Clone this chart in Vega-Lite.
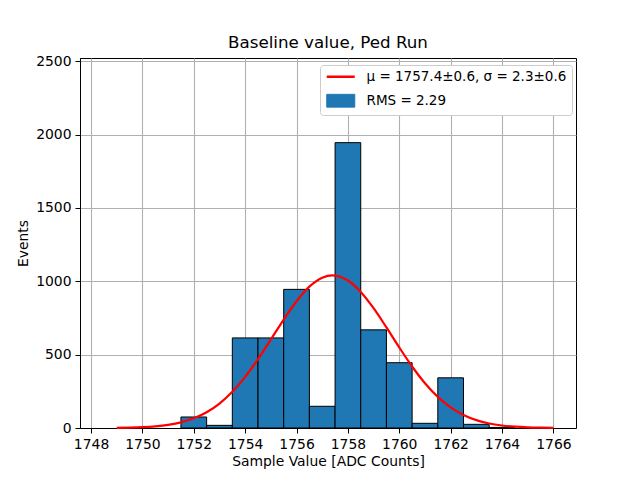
{
  "$schema": "https://vega.github.io/schema/vega-lite/v6.json",
  "autosize": {"type": "none"},
  "padding": {"left": 80, "top": 58, "right": 64, "bottom": 52},
  "width": 496,
  "height": 370,
  "background": "white",
  "title": {
    "text": "Baseline value, Ped Run",
    "font": "DejaVu Sans",
    "fontSize": 16.7,
    "fontWeight": "normal",
    "color": "black",
    "offset": 3
  },
  "config": {
    "view": {"stroke": "black", "strokeWidth": 1},
    "axis": {
      "labelFont": "DejaVu Sans",
      "labelFontSize": 13.9,
      "labelColor": "black",
      "titleFont": "DejaVu Sans",
      "titleFontSize": 13.9,
      "titleFontWeight": "normal",
      "titleColor": "black",
      "domainColor": "black",
      "tickColor": "black",
      "tickSize": 5,
      "labelPadding": 4,
      "gridColor": "#b0b0b0",
      "gridWidth": 1.1,
      "gridOpacity": 1,
      "zindex": 1
    },
    "legend": {
      "title": null,
      "orient": "none",
      "legendX": 240,
      "legendY": 7,
      "fillColor": "white",
      "strokeColor": "#cccccc",
      "cornerRadius": 3,
      "padding": 5,
      "rowPadding": 8,
      "labelFont": "DejaVu Sans",
      "labelFontSize": 13.5,
      "labelColor": "black",
      "labelLimit": 400,
      "labelOffset": 19,
      "symbolSize": 256,
      "symbolOffset": 9
    }
  },
  "datasets": {
    "bins": [
      {"lo": 1751.5, "hi": 1752.5, "count": 75},
      {"lo": 1752.5, "hi": 1753.5, "count": 18},
      {"lo": 1753.5, "hi": 1754.5, "count": 614},
      {"lo": 1754.5, "hi": 1755.5, "count": 614},
      {"lo": 1755.5, "hi": 1756.5, "count": 945},
      {"lo": 1756.5, "hi": 1757.5, "count": 148},
      {"lo": 1757.5, "hi": 1758.5, "count": 1945},
      {"lo": 1758.5, "hi": 1759.5, "count": 669},
      {"lo": 1759.5, "hi": 1760.5, "count": 445},
      {"lo": 1760.5, "hi": 1761.5, "count": 32},
      {"lo": 1761.5, "hi": 1762.5, "count": 342},
      {"lo": 1762.5, "hi": 1763.5, "count": 25},
      {"lo": 1763.5, "hi": 1764.5, "count": 4}
    ],
    "fit": [
      {"x": 1749.0, "y": 1.3},
      {"x": 1749.5, "y": 2.9},
      {"x": 1750.0, "y": 5.9},
      {"x": 1750.5, "y": 11.6},
      {"x": 1751.0, "y": 21.7},
      {"x": 1751.5, "y": 38.7},
      {"x": 1752.0, "y": 66.1},
      {"x": 1752.5, "y": 107.5},
      {"x": 1753.0, "y": 166.8},
      {"x": 1753.5, "y": 247.0},
      {"x": 1754.0, "y": 348.7},
      {"x": 1754.5, "y": 469.7},
      {"x": 1755.0, "y": 603.4},
      {"x": 1755.5, "y": 739.4},
      {"x": 1756.0, "y": 864.2},
      {"x": 1756.5, "y": 963.4},
      {"x": 1757.0, "y": 1024.4},
      {"x": 1757.4, "y": 1040.0},
      {"x": 1757.5, "y": 1039.0},
      {"x": 1758.0, "y": 1005.2},
      {"x": 1758.5, "y": 927.6},
      {"x": 1759.0, "y": 816.5},
      {"x": 1759.5, "y": 685.6},
      {"x": 1760.0, "y": 549.0},
      {"x": 1760.5, "y": 419.3},
      {"x": 1761.0, "y": 305.5},
      {"x": 1761.5, "y": 212.4},
      {"x": 1762.0, "y": 140.7},
      {"x": 1762.5, "y": 89.0},
      {"x": 1763.0, "y": 53.7},
      {"x": 1763.5, "y": 30.9},
      {"x": 1764.0, "y": 16.9},
      {"x": 1764.5, "y": 8.9},
      {"x": 1765.0, "y": 4.4},
      {"x": 1765.5, "y": 2.1},
      {"x": 1766.0, "y": 1.0}
    ]
  },
  "layer": [
    {
      "data": {"name": "bins"},
      "mark": {"type": "bar", "stroke": "black", "strokeWidth": 1, "opacity": 1},
      "encoding": {
        "x": {
          "field": "lo",
          "type": "quantitative",
          "title": "Sample Value [ADC Counts]",
          "scale": {"domain": [1747.57, 1766.88], "nice": false, "zero": false},
          "axis": {"values": [1748, 1750, 1752, 1754, 1756, 1758, 1760, 1762, 1764, 1766], "format": "d", "titlePadding": 4}
        },
        "x2": {"field": "hi"},
        "y": {
          "field": "count",
          "type": "quantitative",
          "title": "Events",
          "scale": {"domain": [0, 2522], "nice": false},
          "axis": {"values": [0, 500, 1000, 1500, 2000, 2500], "format": "d", "titlePadding": 5}
        },
        "y2": {"datum": 0},
        "color": {
          "datum": "RMS = 2.29",
          "type": "nominal",
          "scale": {
            "domain": ["μ = 1757.4±0.6, σ = 2.3±0.6", "RMS = 2.29"],
            "range": ["red", "#1f77b4"]
          },
          "legend": {
            "encode": {
              "symbols": {
                "update": {
                  "shape": {"signal": "datum.value == 'RMS = 2.29' ? 'M-1.75,-0.8H1.75V0.8H-1.75Z' : 'M-1.75,0H1.75'"},
                  "fill": {"signal": "datum.value == 'RMS = 2.29' ? '#1f77b4' : 'transparent'"},
                  "stroke": {"signal": "datum.value == 'RMS = 2.29' ? 'black' : 'red'"},
                  "strokeWidth": {"signal": "datum.value == 'RMS = 2.29' ? 1 : 2.5"},
                  "opacity": {"value": 1}
                }
              }
            }
          }
        }
      }
    },
    {
      "data": {"name": "fit"},
      "mark": {"type": "line", "strokeWidth": 2.2, "interpolate": "monotone"},
      "encoding": {
        "x": {"field": "x", "type": "quantitative"},
        "y": {"field": "y", "type": "quantitative"},
        "color": {
          "datum": "μ = 1757.4±0.6, σ = 2.3±0.6",
          "type": "nominal",
          "legend": {
            "encode": {
              "symbols": {
                "update": {
                  "shape": {"signal": "datum.value == 'RMS = 2.29' ? 'M-1.75,-0.8H1.75V0.8H-1.75Z' : 'M-1.75,0H1.75'"},
                  "fill": {"signal": "datum.value == 'RMS = 2.29' ? '#1f77b4' : 'transparent'"},
                  "stroke": {"signal": "datum.value == 'RMS = 2.29' ? 'black' : 'red'"},
                  "strokeWidth": {"signal": "datum.value == 'RMS = 2.29' ? 1 : 2.5"},
                  "opacity": {"value": 1}
                }
              }
            }
          }
        }
      }
    }
  ]
}
